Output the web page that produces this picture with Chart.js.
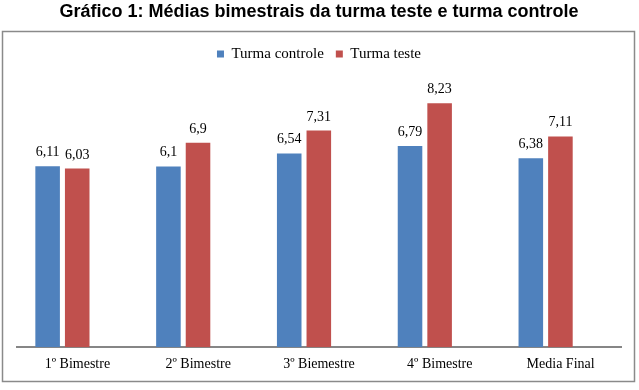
<!DOCTYPE html>
<html>
<head>
<meta charset="utf-8">
<script src="https://cdn.jsdelivr.net/npm/chart.js@4.4.0/dist/chart.umd.min.js"></script>
<style>
  html, body { margin: 0; padding: 0; background: #fff; }
  #wrap { width: 639px; height: 390px; position: relative; }
</style>
</head>
<body>
<div id="wrap"><canvas id="grafico"></canvas></div>
<script>
// dados
const categorias = ['1º Bimestre', '2º Bimestre', '3º Biemestre', '4º Bimestre', 'Media Final'];
const turmaControle = [6.11, 6.1, 6.54, 6.79, 6.38];
const turmaTeste = [6.03, 6.9, 7.31, 8.23, 7.11];
const nomesSeries = ['Turma controle', 'Turma teste'];
const cores = ['#4F81BD', '#C0504D'];

const serif = "'Liberation Serif', 'Times New Roman', serif";

// moldura cinza em volta do gráfico
const moldura = {
  id: 'moldura',
  beforeDraw(chart) {
    const ctx = chart.ctx;
    ctx.save();
    ctx.strokeStyle = '#8a8a8a';
    ctx.lineWidth = 1.5;
    ctx.strokeRect(2.5, 31.5, 632, 350);
    ctx.restore();
  }
};

// rótulos com os valores em cima das barras (vírgula decimal)
const rotulos = {
  id: 'rotulos',
  afterDatasetsDraw(chart) {
    const ctx = chart.ctx;
    ctx.save();
    ctx.font = '14px ' + serif;
    ctx.fillStyle = '#000';
    ctx.textAlign = 'center';
    ctx.textBaseline = 'alphabetic';
    chart.data.datasets.forEach((ds, i) => {
      chart.getDatasetMeta(i).data.forEach((bar, j) => {
        const txt = String(ds.data[j].y).replace('.', ',');
        ctx.fillText(txt, bar.x, bar.y - 10);
      });
    });
    ctx.restore();
  }
};

new Chart(document.getElementById('grafico'), {
  type: 'bar',
  data: {
    labels: categorias,
    datasets: [
      {
        label: nomesSeries[0],
        data: turmaControle.map((v, i) => ({ x: i, y: v })),
        backgroundColor: cores[0],
        xAxisID: 'xb'
      },
      {
        label: nomesSeries[1],
        data: turmaTeste.map((v, i) => ({ x: i, y: v })),
        backgroundColor: cores[1],
        xAxisID: 'xb'
      }
    ]
  },
  options: {
    responsive: true,
    maintainAspectRatio: false,
    animation: false,
    categoryPercentage: 0.49,
    barPercentage: 0.83,
    layout: { padding: { left: 17, right: 18, top: 0, bottom: 8 } },
    plugins: {
      title: {
        display: true,
        text: 'Gráfico 1: Médias bimestrais da turma teste e turma controle',
        color: '#000',
        font: { family: "'Liberation Sans', Arial, sans-serif", size: 18, weight: 'bold' },
        padding: { top: 1, bottom: 12 }
      },
      legend: {
        position: 'top',
        labels: {
          color: '#000',
          font: { family: serif, size: 15 },
          boxWidth: 7,
          boxHeight: 7,
          padding: 12
        }
      },
      tooltip: { enabled: false }
    },
    scales: {
      // eixo escondido que posiciona as barras (um pouco à esquerda dos rótulos, como no original)
      xb: {
        type: 'linear',
        display: false,
        offset: false,
        min: -0.376,
        max: 4.624,
        afterBuildTicks: (s) => { s.ticks = categorias.map((c, i) => ({ value: i })); }
      },
      x: {
        type: 'category',
        offset: true,
        grid: { display: false, drawTicks: false },
        border: { display: true, color: '#868686', width: 2 },
        ticks: { color: '#000', font: { family: serif, size: 14 }, padding: 9 }
      },
      y: {
        display: false,
        min: 0,
        max: 9.3
      }
    }
  },
  plugins: [moldura, rotulos]
});
</script>
</body>
</html>
